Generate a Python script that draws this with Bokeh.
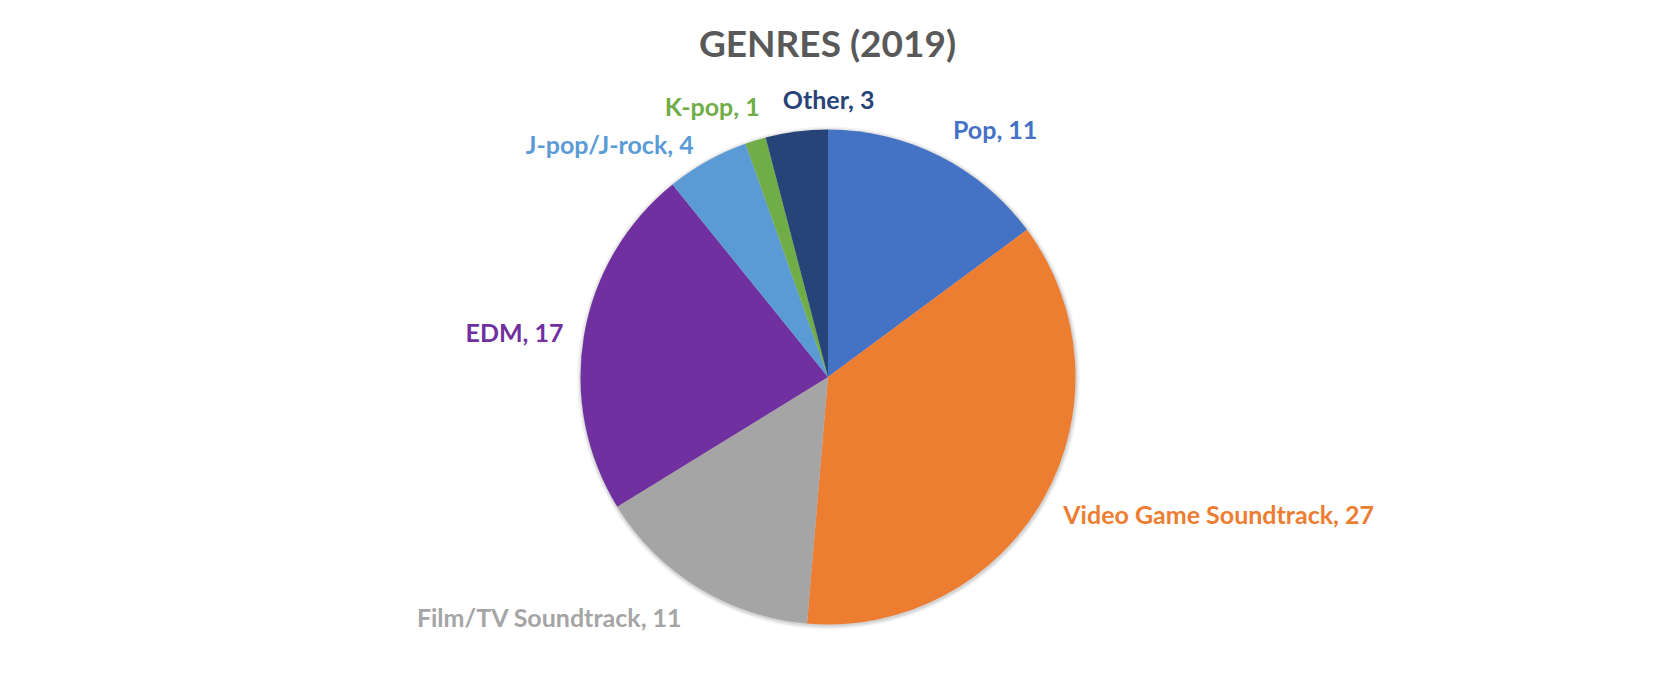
import math
from bokeh.plotting import figure
from bokeh.models import Range1d, ColumnDataSource
from bokeh.core.properties import value
from bokeh.embed import file_html
from bokeh.resources import INLINE

# ---- data ----
genres = ["Pop", "Video Game Soundtrack", "Film/TV Soundtrack", "EDM",
          "J-pop/J-rock", "K-pop", "Other"]
counts = [11, 27, 11, 17, 4, 1, 3]
colors = ["#4472C4", "#ED7D31", "#A5A5A5", "#7030A0", "#5B9BD5", "#70AD47", "#264478"]
title_text = "GENRES (2019)"

# ---- layout ----
W, H = 1640, 668
CX, CY, R = 827.5, 291.5, 247.5
LABEL_R = R + 30
label_align = ["left", "left", "right", "right", "right", "right", "left"]
label_nudge = [(0, 0), (-7, 2), (0, 4), (9, 2), (1, 9), (13, -6), (-10, -3)]  # px (right, down)

total = sum(counts)
starts, ends, mids = [], [], []
cum = 0
for c in counts:
    a0 = math.pi / 2 - 2 * math.pi * cum / total
    a1 = math.pi / 2 - 2 * math.pi * (cum + c) / total
    starts.append(a0)
    ends.append(a1)
    mids.append((a0 + a1) / 2)
    cum += c

src = ColumnDataSource(dict(start=starts, end=ends, color=colors,
                            x=[CX] * len(counts), y=[CY] * len(counts)))

p = figure(width=W, height=H, output_backend="svg", toolbar_location=None,
           x_range=Range1d(0, W), y_range=Range1d(0, H), min_border=0,
           x_axis_location=None, y_axis_location=None)
p.grid.visible = False
p.outline_line_color = None
p.background_fill_color = "white"
p.border_fill_color = "white"

# soft shadow
for dr, a in [(4, 0.04), (2.5, 0.06), (1.2, 0.08)]:
    p.circle(x=[CX + 0.5], y=[CY - 1], radius=R + dr, fill_color="black",
             fill_alpha=a, line_color=None)

p.wedge(x="x", y="y", radius=R, start_angle="start", end_angle="end",
        direction="clock", fill_color="color", line_color=None, source=src)

lx, ly, lt = [], [], []
for g, c, m, (dx, dy) in zip(genres, counts, mids, label_nudge):
    lx.append(CX + LABEL_R * math.cos(m) + dx)
    ly.append(CY + LABEL_R * math.sin(m) - dy)
    lt.append(f"{g}, {c}")

lsrc = ColumnDataSource(dict(x=lx, y=ly, text=lt, color=colors, align=label_align))
p.text(x="x", y="y", text="text", text_color="color", text_align="align",
       text_baseline="middle", text_font=value("Lato"), text_font_style="bold",
       text_font_size="25px", source=lsrc)

p.text(x=[827], y=[626], text=[title_text], text_color="#595959", text_align="center",
       text_baseline="middle", text_font=value("Lato"), text_font_style="bold",
       text_font_size="37px")

open("out.html", "w").write(file_html(p, INLINE))
